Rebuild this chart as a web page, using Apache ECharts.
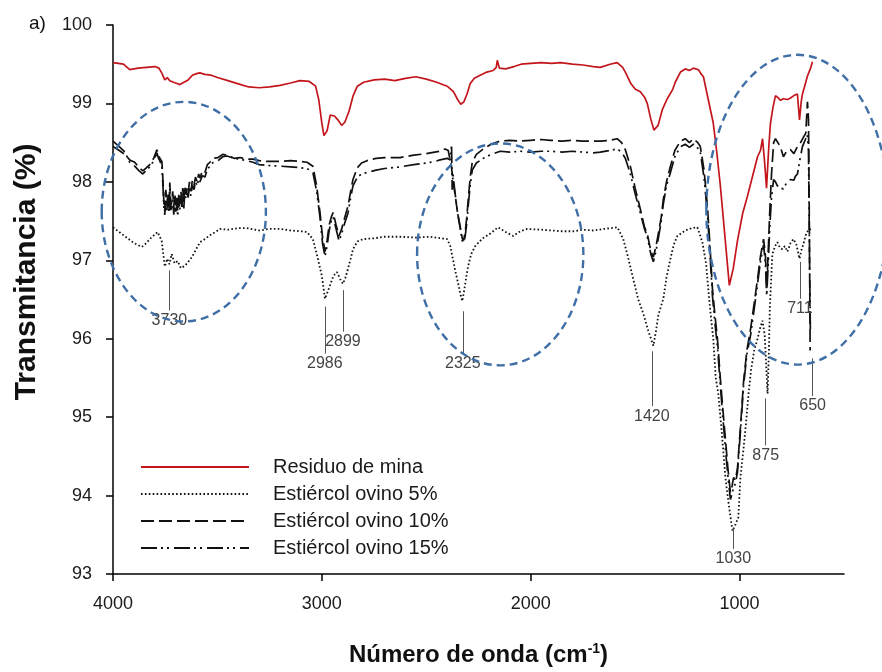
<!DOCTYPE html>
<html>
<head>
<meta charset="utf-8">
<script src="https://cdn.jsdelivr.net/npm/echarts@6/dist/echarts.min.js"></script>
<style>
  html, body { margin: 0; padding: 0; background: #fff; }
  #chart { width: 882px; height: 672px; }
</style>
</head>
<body>
<div id="chart"></div>
<script>
// FTIR spectra: wavenumber (cm-1) vs transmittance (%)
const residuoMina = [
  [4000,99.52],[3950,99.50],[3920,99.43],[3880,99.45],[3840,99.46],[3800,99.47],[3780,99.45],[3765,99.38],
  [3752,99.30],[3740,99.33],[3728,99.29],[3710,99.27],[3690,99.25],[3680,99.24],[3660,99.27],[3640,99.30],
  [3620,99.36],[3600,99.38],[3584,99.39],[3560,99.37],[3530,99.36],[3500,99.33],[3450,99.29],[3400,99.25],
  [3350,99.21],[3300,99.20],[3250,99.21],[3200,99.23],[3150,99.26],[3105,99.29],[3060,99.28],[3030,99.22],
  [3015,99.05],[3000,98.75],[2990,98.59],[2975,98.65],[2960,98.85],[2940,98.84],[2920,98.78],[2905,98.72],
  [2890,98.76],[2870,98.90],[2850,99.10],[2830,99.22],[2800,99.27],[2750,99.30],[2700,99.31],[2650,99.29],
  [2600,99.32],[2550,99.34],[2500,99.31],[2450,99.27],[2400,99.22],[2370,99.15],[2350,99.05],[2335,98.99],
  [2320,99.02],[2305,99.12],[2290,99.25],[2270,99.32],[2242,99.36],[2210,99.40],[2180,99.42],[2165,99.46],
  [2160,99.55],[2150,99.45],[2120,99.44],[2080,99.47],[2046,99.50],[2000,99.51],[1950,99.52],[1900,99.51],
  [1858,99.52],[1800,99.50],[1750,99.49],[1700,99.47],[1667,99.46],[1620,99.50],[1586,99.52],[1560,99.46],
  [1547,99.40],[1520,99.25],[1499,99.18],[1475,99.15],[1455,99.08],[1442,99.00],[1425,98.80],[1410,98.66],
  [1403,98.64],[1390,98.72],[1370,98.92],[1346,99.06],[1320,99.18],[1308,99.27],[1283,99.40],[1260,99.44],
  [1240,99.42],[1221,99.45],[1197,99.43],[1185,99.38],[1173,99.34],[1150,99.05],[1126,98.75],[1110,98.40],
  [1092,97.95],[1070,97.30],[1049,96.68],[1030,96.90],[1010,97.25],[985,97.60],[962,97.82],[940,98.05],
  [914,98.32],[900,98.40],[890,98.55],[880,98.25],[871,97.92],[860,98.45],[852,98.75],[840,98.95],
  [828,99.10],[815,99.07],[804,99.04],[790,99.06],[770,99.05],[756,99.07],[740,99.10],[723,99.12],
  [718,98.95],[713,98.79],[705,99.02],[699,99.12],[685,99.25],[675,99.35],[660,99.45],[651,99.53]
];

const ovino5 = [
  [4000,97.42],[3940,97.30],[3900,97.22],[3862,97.17],[3840,97.22],[3824,97.27],[3800,97.33],[3786,97.36],
  [3776,97.30],[3767,97.25],[3752,96.92],[3740,97.02],[3730,96.95],[3719,97.08],[3705,96.96],[3690,96.99],
  [3675,96.90],[3656,96.93],[3640,96.98],[3622,97.04],[3600,97.15],[3584,97.23],[3560,97.27],[3536,97.32],
  [3510,97.36],[3488,97.40],[3450,97.39],[3400,97.41],[3359,97.41],[3300,97.38],[3250,97.40],[3201,97.40],
  [3150,97.38],[3100,97.37],[3071,97.36],[3043,97.27],[3019,97.02],[3000,96.80],[2985,96.51],[2972,96.60],
  [2961,96.68],[2945,96.80],[2928,96.85],[2912,96.76],[2899,96.70],[2887,96.78],[2875,96.89],[2862,97.02],
  [2851,97.14],[2830,97.24],[2803,97.27],[2750,97.28],[2700,97.30],[2626,97.30],[2550,97.29],[2480,97.30],
  [2430,97.28],[2400,97.27],[2385,97.18],[2376,97.06],[2360,96.85],[2347,96.70],[2335,96.55],[2328,96.48],
  [2318,96.62],[2308,96.80],[2299,96.93],[2285,97.08],[2266,97.18],[2230,97.28],[2194,97.34],[2156,97.42],
  [2120,97.36],[2084,97.31],[2050,97.37],[2017,97.40],[1950,97.39],[1900,97.38],[1850,97.37],[1796,97.37],
  [1750,97.39],[1700,97.38],[1650,97.40],[1585,97.42],[1557,97.27],[1535,97.05],[1509,96.76],[1485,96.50],
  [1461,96.32],[1437,96.10],[1413,95.91],[1400,96.10],[1389,96.30],[1365,96.51],[1350,96.78],[1331,97.02],
  [1315,97.20],[1298,97.31],[1260,97.38],[1230,97.41],[1202,97.42],[1178,97.23],[1160,96.95],[1150,96.64],
  [1138,96.30],[1126,96.00],[1114,95.50],[1102,95.30],[1085,94.80],[1068,94.23],[1050,93.85],[1034,93.55],
  [1020,93.63],[1006,93.72],[996,94.23],[981,94.60],[970,94.90],[957,95.30],[945,95.60],[930,95.85],
  [914,96.00],[900,96.15],[890,96.23],[880,96.05],[876,95.85],[866,95.30],[860,95.80],[855,96.40],
  [843,97.08],[830,97.18],[819,97.23],[807,97.16],[795,97.14],[783,97.18],[771,97.11],[756,97.22],
  [742,97.27],[728,97.20],[713,97.02],[705,97.12],[694,97.21],[680,97.35],[665,97.40],[651,97.37]
];

const ovino10 = [
  [4000,98.45],[3970,98.40],[3943,98.35],[3920,98.28],[3896,98.25],[3875,98.18],[3857,98.14],[3840,98.18],
  [3824,98.22],[3805,98.30],[3790,98.41],[3782,98.35],[3776,98.30],[3766,98.26],[3761,98.03],[3756,97.72],
  [3752,97.62],[3747,97.90],[3742,97.70],[3737,97.86],[3732,97.66],[3728,97.99],[3723,97.70],[3719,97.74],
  [3714,97.88],[3709,97.68],[3704,97.85],[3699,97.70],[3694,97.80],[3690,97.62],[3685,97.84],[3680,97.72],
  [3675,97.88],[3670,97.76],[3666,97.92],[3661,97.74],[3656,97.95],[3651,97.84],[3646,97.92],[3640,97.86],
  [3634,98.00],[3627,97.88],[3620,98.02],[3612,97.96],[3605,98.06],[3597,98.00],[3590,98.10],[3584,98.05],
  [3572,98.14],[3560,98.12],[3548,98.22],[3536,98.25],[3520,98.30],[3497,98.31],[3475,98.35],[3454,98.34],
  [3420,98.30],[3392,98.31],[3360,98.29],[3330,98.29],[3300,98.27],[3263,98.26],[3200,98.26],[3150,98.27],
  [3100,98.26],[3071,98.25],[3043,98.20],[3025,97.95],[3009,97.61],[2997,97.30],[2985,97.11],[2975,97.25],
  [2965,97.45],[2955,97.55],[2946,97.61],[2932,97.45],[2918,97.31],[2905,97.40],[2890,97.55],[2875,97.69],
  [2862,97.88],[2851,98.03],[2830,98.18],[2810,98.24],[2784,98.27],[2740,98.30],[2700,98.31],[2626,98.31],
  [2560,98.34],[2500,98.36],[2460,98.38],[2434,98.39],[2410,98.42],[2395,98.40],[2380,98.20],[2370,97.98],
  [2360,97.80],[2350,97.60],[2337,97.42],[2328,97.28],[2322,97.25],[2314,97.35],[2306,97.55],[2299,97.78],
  [2290,98.05],[2280,98.25],[2260,98.35],[2227,98.42],[2190,98.48],[2146,98.52],[2100,98.53],[2050,98.52],
  [2000,98.53],[1950,98.54],[1906,98.53],[1850,98.52],[1800,98.53],[1750,98.52],[1700,98.52],[1667,98.52],
  [1620,98.53],[1586,98.55],[1565,98.50],[1547,98.41],[1523,98.20],[1500,97.92],[1475,97.65],[1455,97.42],
  [1442,97.34],[1425,97.12],[1413,97.04],[1400,97.18],[1389,97.34],[1375,97.55],[1365,97.78],[1350,98.00],
  [1331,98.20],[1310,98.40],[1283,98.52],[1260,98.55],[1240,98.50],[1221,98.55],[1200,98.50],[1188,98.45],
  [1170,98.15],[1154,97.69],[1142,97.20],[1130,96.64],[1118,96.30],[1106,96.00],[1092,95.49],[1080,95.10],
  [1068,94.73],[1056,94.35],[1044,94.04],[1036,94.12],[1029,94.23],[1020,94.20],[1010,94.35],[995,94.90],
  [981,95.45],[965,95.85],[947,96.13],[930,96.45],[914,96.76],[900,97.05],[885,97.27],[876,97.05],
  [870,96.64],[863,97.10],[856,97.59],[847,98.10],[837,98.50],[828,98.55],[819,98.57],[805,98.45],
  [790,98.32],[773,98.40],[756,98.41],[740,98.36],[723,98.45],[708,98.50],[694,98.57],[683,98.62],
  [675,99.02],[670,98.80],[666,97.50],[662,95.85]
];

const ovino15 = [
  [4000,98.52],[3970,98.45],[3943,98.38],[3920,98.25],[3896,98.20],[3875,98.14],[3857,98.10],[3840,98.15],
  [3824,98.19],[3805,98.27],[3790,98.37],[3782,98.30],[3776,98.27],[3766,98.20],[3761,97.96],[3756,97.66],
  [3752,97.58],[3747,97.82],[3742,97.64],[3737,97.80],[3732,97.60],[3728,97.92],[3723,97.64],[3719,97.68],
  [3714,97.80],[3709,97.58],[3704,97.78],[3699,97.62],[3694,97.72],[3690,97.56],[3685,97.78],[3680,97.64],
  [3675,97.80],[3670,97.68],[3666,97.85],[3661,97.66],[3656,97.88],[3651,97.78],[3646,97.86],[3640,97.80],
  [3634,97.94],[3627,97.82],[3620,97.96],[3612,97.90],[3605,98.00],[3597,97.95],[3590,98.04],[3584,98.00],
  [3572,98.08],[3560,98.06],[3548,98.16],[3536,98.20],[3520,98.25],[3497,98.27],[3475,98.32],[3454,98.33],
  [3420,98.30],[3392,98.29],[3360,98.27],[3330,98.25],[3300,98.22],[3263,98.21],[3200,98.20],[3150,98.19],
  [3100,98.18],[3071,98.17],[3043,98.12],[3025,97.88],[3009,97.55],[2997,97.22],[2985,97.05],[2975,97.18],
  [2965,97.38],[2955,97.50],[2946,97.55],[2932,97.40],[2918,97.25],[2905,97.34],[2890,97.48],[2875,97.60],
  [2862,97.80],[2851,97.95],[2830,98.06],[2810,98.10],[2784,98.12],[2740,98.15],[2700,98.17],[2626,98.19],
  [2560,98.22],[2500,98.24],[2460,98.26],[2434,98.28],[2400,98.30],[2385,98.28],[2379,98.48],[2376,97.90],
  [2372,98.10],[2365,97.92],[2355,97.70],[2345,97.52],[2337,97.40],[2328,97.25],[2322,97.22],[2314,97.30],
  [2306,97.48],[2299,97.70],[2290,97.95],[2280,98.15],[2260,98.24],[2227,98.30],[2190,98.35],[2146,98.39],
  [2100,98.38],[2050,98.39],[2000,98.38],[1950,98.39],[1906,98.39],[1850,98.38],[1800,98.39],[1750,98.38],
  [1700,98.37],[1667,98.38],[1620,98.40],[1586,98.42],[1565,98.38],[1547,98.30],[1523,98.10],[1500,97.85],
  [1475,97.60],[1455,97.40],[1442,97.30],[1425,97.08],[1413,96.98],[1400,97.12],[1389,97.28],[1375,97.50],
  [1365,97.72],[1350,97.95],[1331,98.12],[1310,98.32],[1283,98.45],[1260,98.48],[1240,98.44],[1221,98.48],
  [1200,98.43],[1188,98.38],[1170,98.05],[1154,97.60],[1142,97.10],[1130,96.55],[1118,96.20],[1106,95.90],
  [1092,95.40],[1080,95.00],[1068,94.60],[1056,94.25],[1044,93.95],[1036,94.02],[1029,94.10],[1020,94.15],
  [1010,94.30],[995,94.85],[981,95.40],[965,95.80],[947,96.05],[930,96.38],[914,96.70],[900,96.98],
  [885,97.20],[876,96.95],[870,96.55],[863,96.95],[856,97.40],[847,97.80],[837,98.03],[828,98.00],
  [819,97.95],[805,97.92],[790,97.91],[773,98.00],[756,98.03],[740,98.02],[733,98.07],[723,98.10],
  [710,98.30],[699,98.45],[685,98.54],[676,98.60],[670,98.40],[665,97.00],[661,96.10]
];

const seriesNames = ['Residuo de mina', 'Estiércol ovino 5%', 'Estiércol ovino 10%', 'Estiércol ovino 15%'];

// Assigned bands: [wavenumber, top of leader line (%T), bottom of leader line (%T)]
const bandMarks = [
  [3730, 96.87, 96.36],
  [2986, 96.41, 95.81],
  [2899, 96.62, 96.09],
  [2325, 96.35, 95.81],
  [1420, 95.84, 95.14],
  [1030, 93.58, 93.32],
  [875, 95.24, 94.64],
  [711, 96.98, 96.51],
  [650, 95.75, 95.27]
];

// Highlighted spectral regions: [wavenumber from, wavenumber to, %T low, %T high]
const highlightRegions = [
  [4054, 3268, 96.22, 99.02],
  [2544, 1748, 95.66, 98.49],
  [1159, 286, 95.67, 99.62]
];

const xTickValues = [4000, 3000, 2000, 1000];

const FONT = '"Liberation Sans", Arial, sans-serif';
const chart = echarts.init(document.getElementById('chart'), null, { renderer: 'canvas' });

function lineSeries(name, data, color, width, dash, z) {
  return {
    name: name,
    type: 'line',
    data: data,
    symbol: 'none',
    showSymbol: false,
    smooth: false,
    z: z,
    lineStyle: { color: color, width: width, type: dash },
    itemStyle: { color: color },
    emphasis: { disabled: true }
  };
}

const s5 = lineSeries(seriesNames[1], ovino5, '#111', 1.8, [1.6, 2.3], 2);
s5.markLine = {
  silent: true,
  symbol: ['none', 'none'],
  animation: false,
  lineStyle: { color: '#555', width: 1, type: 'solid' },
  label: { show: true, position: 'end', formatter: '{b}', color: '#444', fontSize: 16, fontFamily: FONT, distance: 2 },
  emphasis: { disabled: true },
  data: bandMarks.map(b => [
    { name: String(b[0]), coord: [b[0], b[1]] },
    { coord: [b[0], b[2]] }
  ])
};

const labelGraphics = [
  { type: 'text', id: 'panel', left: 29, top: 14, style: { text: 'a)', fill: '#111', font: '19px ' + FONT } },
  {
    type: 'text', id: 'ytitle', x: 27, y: 272, rotation: Math.PI / 2,
    style: { text: 'Transmitancia (%)', fill: '#111', font: 'bold 30px ' + FONT, align: 'center', verticalAlign: 'middle' }
  }
];

const option = {
  animation: false,
  backgroundColor: '#ffffff',
  textStyle: { fontFamily: FONT },
  grid: { left: 113, right: 38, top: 25, bottom: 96, containLabel: false },
  legend: {
    orient: 'vertical',
    left: 135,
    top: 452,
    itemWidth: 108,
    itemHeight: 14,
    itemGap: 7,
    data: seriesNames,
    itemStyle: { opacity: 0 },
    textStyle: { fontSize: 20, color: '#1a1a1a', fontFamily: FONT, lineHeight: 20, padding: [0, 0, 0, 19] },
    selectedMode: false
  },
  xAxis: {
    type: 'value',
    inverse: true,
    min: 500,
    max: 4000,
    axisLine: { onZero: false, lineStyle: { color: '#000', width: 1.5 } },
    axisTick: { show: true, inside: false, length: 7, customValues: xTickValues, lineStyle: { color: '#000', width: 1.5 } },
    axisLabel: { customValues: xTickValues, formatter: v => String(v), fontSize: 18, color: '#1a1a1a', margin: 21, fontFamily: FONT },
    splitLine: { show: false },
    name: '{t|Número de onda (cm}{s|-1}{t|)}',
    nameLocation: 'middle',
    nameGap: 68,
    nameTextStyle: {
      rich: {
        t: { fontSize: 24, fontWeight: 'bold', color: '#111', fontFamily: FONT },
        s: { fontSize: 14, fontWeight: 'bold', color: '#111', fontFamily: FONT, padding: [0, 0, 12, 0] }
      }
    }
  },
  yAxis: {
    type: 'value',
    min: 93,
    max: 100,
    interval: 1,
    axisLine: { show: true, onZero: false, lineStyle: { color: '#000', width: 1.5 } },
    axisTick: { show: true, inside: false, length: 7, lineStyle: { color: '#000', width: 1.5 } },
    axisLabel: { fontSize: 18, color: '#1a1a1a', margin: 21, fontFamily: FONT },
    splitLine: { show: false }
  },
  graphic: labelGraphics,
  series: [
    lineSeries(seriesNames[0], residuoMina, '#c3161c', 1.7, 'solid', 5),
    s5,
    lineSeries(seriesNames[2], ovino10, '#111', 1.7, [13, 5], 3),
    lineSeries(seriesNames[3], ovino15, '#111', 1.7, [16, 4, 2, 4, 2, 5], 4)
  ]
};

chart.setOption(option);

// Dashed ellipses around the highlighted regions, placed through the axis scales
const ellipseGraphics = highlightRegions.map((r, i) => {
  const a = chart.convertToPixel({ gridIndex: 0 }, [r[0], r[3]]);
  const b = chart.convertToPixel({ gridIndex: 0 }, [r[1], r[2]]);
  return {
    type: 'ellipse',
    id: 'region' + i,
    z: 100,
    silent: true,
    shape: {
      cx: (a[0] + b[0]) / 2,
      cy: (a[1] + b[1]) / 2,
      rx: Math.abs(b[0] - a[0]) / 2,
      ry: Math.abs(b[1] - a[1]) / 2
    },
    style: { fill: 'none', stroke: '#3f6fa6', lineWidth: 2.4, lineDash: [8, 5] }
  };
});

chart.setOption({ graphic: labelGraphics.concat(ellipseGraphics) });
</script>
</body>
</html>
